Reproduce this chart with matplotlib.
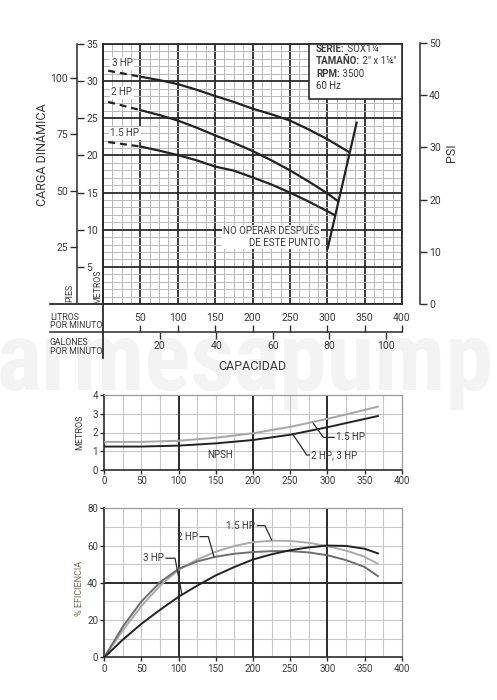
import matplotlib
matplotlib.use('Agg')
import matplotlib.pyplot as plt
from matplotlib.lines import Line2D
from matplotlib.patches import Rectangle
from matplotlib import font_manager
import numpy as np

plt.rcParams['font.family'] = ['Roboto', 'DejaVu Sans']
plt.rcParams['lines.scale_dashes'] = False

# ---------------- data ----------------
# Head curves (capacity in L/min, head in metres)
HEAD_3HP_Q = [50, 75, 100, 125, 150, 175, 200, 225, 250, 275, 300, 330]
HEAD_3HP_M = [30.6, 30.15, 29.6, 28.85, 28.0, 27.2, 26.3, 25.55, 24.7, 23.5, 22.2, 20.4]
HEAD_2HP_Q = [50, 75, 100, 125, 150, 175, 200, 225, 250, 275, 300, 315]
HEAD_2HP_M = [26.1, 25.45, 24.7, 23.75, 22.7, 21.7, 20.6, 19.35, 18.0, 16.5, 14.9, 13.8]
HEAD_15HP_Q = [50, 75, 100, 125, 150, 175, 200, 225, 250, 275, 300, 311]
HEAD_15HP_M = [21.2, 20.65, 20.05, 19.35, 18.5, 17.95, 17.05, 16.1, 15.0, 13.8, 12.5, 11.9]
DASH_Q = [7, 50]
DASH_3HP_M = [31.4, 30.6]
DASH_2HP_M = [27.2, 26.1]
DASH_15HP_M = [21.8, 21.2]
STOP_Q = [300.6, 339.3]
STOP_M = [7.5, 24.4]

# NPSH curves
NPSH_Q = [0, 50, 100, 150, 200, 250, 300, 350, 368]
NPSH_15HP = [1.5, 1.5, 1.56, 1.72, 1.96, 2.3, 2.73, 3.2, 3.38]
NPSH_23HP = [1.25, 1.25, 1.3, 1.42, 1.6, 1.88, 2.28, 2.72, 2.88]

# Efficiency curves
EFF_Q = [0, 25, 50, 75, 100, 125, 150, 175, 200, 225, 250, 275, 300, 325, 350, 368]
EFF_15HP = [0, 14.5, 27.5, 38.5, 47, 52.5, 56.7, 59.8, 61.8, 62.6, 62.5, 61.5, 59.7, 57.3, 54.0, 50.2]
EFF_2HP = [0, 16.5, 30, 40.3, 47.5, 51.5, 54, 55.6, 56.5, 57, 57, 56.3, 54.8, 52.2, 48.5, 43.6]
EFF_3HP = [0, 9.5, 18, 25.5, 32.5, 38.5, 44, 48.5, 52.5, 55.3, 57.5, 59, 60, 59.8, 58.3, 55.8]

LPM_TICKS = [50, 100, 150, 200, 250, 300, 350, 400]
GPM_TICKS = [20, 40, 60, 80, 100]
M_TICKS = [5, 10, 15, 20, 25, 30, 35]
FT_TICKS = [25, 50, 75, 100]
PSI_TICKS = [0, 10, 20, 30, 40, 50]
X_TICKS = [0, 50, 100, 150, 200, 250, 300, 350, 400]
NPSH_TICKS = [0, 1, 2, 3, 4]
EFF_TICKS = [0, 20, 40, 60, 80]

FT_PER_M = 3.28084
PSI_PER_M = 1.42197
L_PER_GAL = 3.78541

# ---------------- figure ----------------
W, H = 497, 700
fig = plt.figure(figsize=(W / 100, H / 100), dpi=100)
fig.patch.set_facecolor('white')

def fx(x):
    return x / W

def fy(y):
    return 1 - y / H

DARK = '#2b2b2b'
TXT = '#3a3a3a'
MINOR = '#b8b8b8'

# watermark
names = {f.name for f in font_manager.fontManager.ttflist}
wm_fam = 'Roboto'
for cand in ['Liberation Sans Narrow', 'Roboto Condensed', 'Open Sans Condensed']:
    if cand in names:
        wm_fam = cand
        break
wm = fig.text(fx(245), fy(390), 'armesapump', fontsize=79, fontweight='bold',
              family=[wm_fam, 'DejaVu Sans'], color='#f3f3f3', ha='center',
              va='baseline', zorder=-5)
fig.canvas.draw()
wpx = wm.get_window_extent().width
wm.set_fontsize(79 * 497 / wpx)

# ---------------- main head chart ----------------
L0, T0, R0, B0 = 103, 44, 402, 304
ax = fig.add_axes([fx(L0), fy(B0), (R0 - L0) / W, (B0 - T0) / H])
ax.set_xlim(0, 400)
ax.set_ylim(0, 35)
ax.set_xticks(X_TICKS)
ax.set_xticks(np.arange(0, 401, 12.5), minor=True)
ax.set_yticks(range(0, 36, 5))
ax.set_yticks(range(0, 36, 1), minor=True)
ax.tick_params(which='both', length=0, labelbottom=False, labelleft=False)
ax.grid(which='minor', color=MINOR, lw=0.7)
ax.grid(which='major', color=DARK, lw=1.3)
ax.set_axisbelow(True)
for s in ax.spines.values():
    s.set_color(DARK)
    s.set_linewidth(1.3)

lw_c = 1.6
for q, m in [(HEAD_3HP_Q, HEAD_3HP_M), (HEAD_2HP_Q, HEAD_2HP_M), (HEAD_15HP_Q, HEAD_15HP_M)]:
    ax.plot(q, m, color='#222222', lw=lw_c, zorder=3, solid_capstyle='butt')
for m in [DASH_3HP_M, DASH_2HP_M, DASH_15HP_M]:
    ax.plot(DASH_Q, m, color='#222222', lw=lw_c, dashes=(5, 3.5), zorder=3)
ax.plot(STOP_Q, STOP_M, color='#222222', lw=lw_c, zorder=3)

wb = dict(facecolor='white', edgecolor='none', pad=1.0)
ax.text(25.4, 32.4, '3 HP', fontsize=7, color=TXT, ha='center', va='center', bbox=wb, zorder=4)
ax.text(25.4, 28.5, '2 HP', fontsize=7, color=TXT, ha='center', va='center', bbox=wb, zorder=4)
ax.text(29.4, 23.0, '1.5 HP', fontsize=7, color=TXT, ha='center', va='center', bbox=wb, zorder=4)
ax.text(290.3, 9.0, 'NO OPERAR DESPUÉS\nDE ESTE PUNTO', fontsize=7, color=TXT,
        ha='right', va='center', multialignment='right', linespacing=1.25,
        bbox=dict(facecolor='white', edgecolor='none', pad=0.8), zorder=4)

# info box
bx0 = (309 - L0) / (R0 - L0)
by0 = (B0 - 99) / (B0 - T0)
ax.add_patch(Rectangle((bx0, by0), 1 - bx0, 1 - by0, transform=ax.transAxes,
                       facecolor='white', edgecolor=DARK, lw=1.2, zorder=5, clip_on=False))
tx = (316 - L0) / (R0 - L0)
rows = [('SERIE:', ' SOX1¼'), ('TAMAÑO:', ' 2" x 1¼"'), ('RPM:', ' 3500'), ('', '60 Hz')]
for i, (b, r) in enumerate(rows):
    yy = (B0 - (49 + 12.4 * i)) / (B0 - T0)
    if b:
        t = ax.text(tx, yy, b, transform=ax.transAxes, fontsize=7, fontweight='bold',
                    color=TXT, ha='left', va='center', zorder=6)
        ax.annotate(r, xy=(1, 0), xycoords=t, fontsize=7, color=TXT, ha='left',
                    va='bottom', zorder=6)
    else:
        ax.text(tx, yy, r, transform=ax.transAxes, fontsize=7, color=TXT,
                ha='left', va='center', zorder=6)

# left metres / feet axis
axm = fig.add_axes([fx(77), fy(B0), 0.0001, (B0 - T0) / H])
axm.set_ylim(0, 35)
axm.patch.set_visible(False)
for s in ['top', 'bottom', 'left']:
    axm.spines[s].set_visible(False)
axm.spines['right'].set_color(DARK)
axm.spines['right'].set_linewidth(1.1)
axm.set_xticks([])
axm.yaxis.set_ticks_position('right')
axm.set_yticks(M_TICKS)
axm.tick_params(axis='y', direction='out', length=5, width=1, pad=1.5,
                labelsize=7.5, color=DARK, labelcolor=TXT)

axp = fig.add_axes([fx(77), fy(B0), 0.0001, (B0 - T0) / H])
axp.set_ylim(0, 35 * FT_PER_M)
axp.patch.set_visible(False)
for s in axp.spines.values():
    s.set_visible(False)
axp.set_xticks([])
axp.set_yticks(FT_TICKS)
axp.tick_params(axis='y', direction='out', length=5, width=1, pad=1.5,
                labelsize=7.5, color=DARK, labelcolor=TXT)

# right psi axis
psi_h = (B0 - T0) * (max(PSI_TICKS) / PSI_PER_M) / 35
axs = fig.add_axes([fx(420), fy(B0), 0.0001, psi_h / H])
axs.set_ylim(0, max(PSI_TICKS))
axs.patch.set_visible(False)
for s in ['top', 'bottom', 'left']:
    axs.spines[s].set_visible(False)
axs.spines['right'].set_color(DARK)
axs.spines['right'].set_linewidth(1.1)
axs.set_xticks([])
axs.yaxis.set_ticks_position('right')
axs.set_yticks(PSI_TICKS)
axs.tick_params(axis='y', direction='out', length=5, width=1, pad=1.5,
                labelsize=7.5, color=DARK, labelcolor=TXT)

# capacity axes
scale = (R0 - L0) / 400.0
lo = -(L0 - 50) / scale
axc = fig.add_axes([fx(50), fy(331.7), (R0 - 50) / W, 0.0001])
axc.set_xlim(lo, 400)
axc.patch.set_visible(False)
for s in ['top', 'left', 'right']:
    axc.spines[s].set_visible(False)
axc.spines['bottom'].set_color(DARK)
axc.spines['bottom'].set_linewidth(1.1)
axc.set_yticks([])
axc.xaxis.set_ticks_position('top')
axc.set_xticks(LPM_TICKS)
axc.tick_params(axis='x', direction='out', length=5, width=1, pad=1.5,
                labelsize=7.5, color=DARK, labelcolor=TXT)

axg = fig.add_axes([fx(50), fy(331.7), (R0 - 50) / W, 0.0001])
axg.set_xlim(lo / L_PER_GAL, 400 / L_PER_GAL)
axg.patch.set_visible(False)
for s in axg.spines.values():
    s.set_visible(False)
axg.set_yticks([])
axg.set_xticks(GPM_TICKS)
axg.tick_params(axis='x', direction='out', length=5, width=1, pad=1.5,
                labelsize=7.5, color=DARK, labelcolor=TXT)

# frame lines
fig.add_artist(Line2D([fx(L0), fx(L0)], [fy(T0), fy(358)], color=DARK, lw=1.3))
fig.add_artist(Line2D([fx(50), fx(L0)], [fy(B0), fy(B0)], color=DARK, lw=1.3))

fig.text(fx(50), fy(312.5), 'LITROS\nPOR MINUTO', fontsize=6.3, color=TXT,
         ha='left', va='top', linespacing=1.0)
fig.text(fx(50), fy(337.5), 'GALONES\nPOR MINUTO', fontsize=6.3, color=TXT,
         ha='left', va='top', linespacing=1.0)
fig.text(fx(70), fy(293), 'PIES', fontsize=6.3, color=TXT, rotation=90, ha='center', va='center')
fig.text(fx(97.5), fy(287), 'METROS', fontsize=6.3, color=TXT, rotation=90, ha='center', va='center')
fig.text(fx(42), fy(155), 'CARGA DINÁMICA', fontsize=9, color=TXT, rotation=90, ha='center', va='center')
fig.text(fx(452), fy(153), 'PSI', fontsize=9, color=TXT, rotation=90, ha='center', va='center')
fig.text(fx(252), fy(367), 'CAPACIDAD', fontsize=9, color=TXT, ha='center', va='center')

# ---------------- lower charts helper ----------------
def lower_axes(top, bottom, ylim, yminor, ymajor_dark):
    a = fig.add_axes([fx(104.3), fy(bottom), (401.7 - 104.3) / W, (bottom - top) / H])
    a.set_facecolor('none')
    a.set_xlim(0, 400)
    a.set_ylim(*ylim)
    for v in np.arange(25, 400, 25):
        if v % 100 == 0:
            a.axvline(v, color=DARK, lw=1.4, zorder=1)
        else:
            a.axvline(v, color='#c8c8c8', lw=0.8, zorder=0.5)
    for v in yminor:
        if v in ymajor_dark:
            a.axhline(v, color=DARK, lw=1.4, zorder=1)
        else:
            a.axhline(v, color='#c8c8c8', lw=0.8, zorder=0.5)
    for s in ['left', 'bottom']:
        a.spines[s].set_color(DARK)
        a.spines[s].set_linewidth(1.2)
    for s in ['top', 'right']:
        a.spines[s].set_color('#9a9a9a')
        a.spines[s].set_linewidth(0.9)
    a.set_xticks(X_TICKS)
    a.tick_params(direction='out', length=3, width=1, pad=1.5, labelsize=7,
                  color=DARK, labelcolor=TXT)
    return a

# NPSH
a2 = lower_axes(395, 470, (0, 4), [1, 2, 3], [])
a2.set_yticks(NPSH_TICKS)
a2.plot(NPSH_Q, NPSH_15HP, color='#a5a5a5', lw=1.4, zorder=3)
a2.plot(NPSH_Q, NPSH_23HP, color='#222222', lw=1.4, zorder=3)
a2.plot([281.1, 294.6, 309], [2.49, 1.74, 1.74], color=DARK, lw=0.9, zorder=3)
a2.text(311, 1.74, '1.5 HP', fontsize=7, color=TXT, ha='left', va='center')
a2.plot([254.2, 272.2, 275.8], [1.87, 0.8, 0.8], color=DARK, lw=0.9, zorder=3)
a2.text(278, 0.8, '2 HP, 3 HP', fontsize=7, color=TXT, ha='left', va='center')
a2.text(155.6, 0.8, 'NPSH', fontsize=7, color=TXT, ha='center', va='center')
fig.text(fx(80), fy(432), 'METROS', fontsize=6.5, color=TXT, rotation=90, ha='center', va='center')

# Efficiency
a3 = lower_axes(508.3, 657.3, (0, 80), [10, 20, 30, 40, 50, 60, 70], [40])
a3.set_yticks(EFF_TICKS)
a3.plot(EFF_Q, EFF_15HP, color='#ababab', lw=1.4, zorder=3)
a3.plot(EFF_Q, EFF_2HP, color='#6e6e6e', lw=1.4, zorder=3)
a3.plot(EFF_Q, EFF_3HP, color='#222222', lw=1.4, zorder=3)
a3.text(80, 53.2, '3 HP', fontsize=7, color=TXT, ha='right', va='center')
a3.plot([83, 95.1, 104.1], [53.2, 53.2, 34.4], color=DARK, lw=0.9, zorder=4)
a3.text(126, 64.8, '2 HP', fontsize=7, color=TXT, ha='right', va='center')
a3.plot([128.7, 139.9, 147.5], [64.8, 64.8, 54.0], color=DARK, lw=0.9, zorder=4)
a3.text(203, 70.7, '1.5 HP', fontsize=7, color=TXT, ha='right', va='center')
a3.plot([205.8, 216.1, 225.1], [70.7, 70.7, 63.0], color=DARK, lw=0.9, zorder=4)
fig.text(fx(80), fy(588), '% EFICIENCIA', fontsize=6.5, color='#7a6650', rotation=90,
         ha='center', va='center')

fig.savefig('out.png', dpi=100, facecolor='white')
